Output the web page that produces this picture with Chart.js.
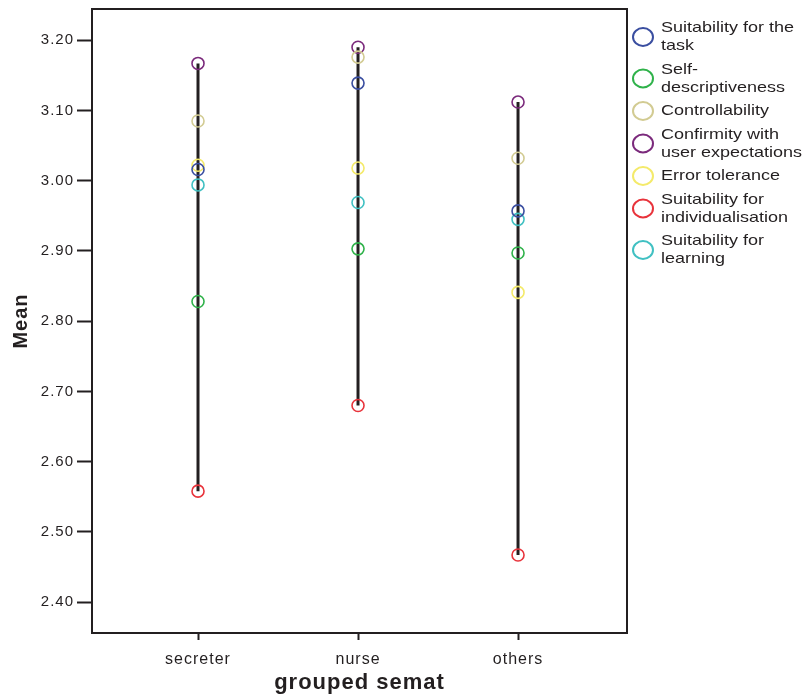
<!DOCTYPE html>
<html>
<head>
<meta charset="utf-8">
<script src="https://cdn.jsdelivr.net/npm/chart.js@4.4.0/dist/chart.umd.min.js"></script>
<style>
  html, body { margin: 0; padding: 0; background: #fff; }
  #wrap { width: 803px; height: 695px; }
</style>
</head>
<body>
<div id="wrap"><canvas id="meanChart"></canvas></div>
<script>
// categories on the x axis
const groups = ['secreter', 'nurse', 'others'];

// means per dimension (secreter, nurse, others)
const taskSuitability = [3.016, 3.139, 2.957];
const selfDescriptiveness = [2.828, 2.903, 2.897];
const controllability = [3.085, 3.176, 3.032];
const conformity = [3.167, 3.190, 3.112];
const errorTolerance = [3.022, 3.018, 2.841];
const individualisation = [2.558, 2.680, 2.467];
const learning = [2.994, 2.969, 2.945];

const yTicks = [2.4, 2.5, 2.6, 2.7, 2.8, 2.9, 3.0, 3.1, 3.2];

const series = [
  { label: ['Suitability for the', 'task'], data: taskSuitability, color: '#3a4ea0' },
  { label: ['Self-', 'descriptiveness'], data: selfDescriptiveness, color: '#2fb24a' },
  { label: ['Controllability'], data: controllability, color: '#d2cb92' },
  { label: ['Confirmity with', 'user expectations'], data: conformity, color: '#7b2a7c' },
  { label: ['Error tolerance'], data: errorTolerance, color: '#f4ea6a' },
  { label: ['Suitability for', 'individualisation'], data: individualisation, color: '#e8333b' },
  { label: ['Suitability for', 'learning'], data: learning, color: '#40c0c2' }
];

const FONT = '"Liberation Sans", Arial, sans-serif';

const datasets = series.map(s => ({
  type: 'scatter',
  label: s.label.join(' '),
  legendLines: s.label,
  data: s.data.map((v, i) => ({ x: i, y: v })),
  borderColor: s.color,
  backgroundColor: 'rgba(0,0,0,0)',
  pointRadius: 6,
  pointBorderWidth: 1.6,
  pointHoverRadius: 6,
  order: 1
}));

// high-low line per group, from lowest to highest mean
groups.forEach((g, i) => {
  const vals = series.map(s => s.data[i]);
  datasets.push({
    type: 'line',
    label: g + ' range',
    data: [{ x: i, y: Math.min(...vals) }, { x: i, y: Math.max(...vals) }],
    borderColor: '#231f20',
    borderWidth: 3,
    pointRadius: 0,
    order: 2
  });
});

// the original export is a bit wide, so space the axis text out
const spacingPlugin = {
  id: 'spacing',
  beforeDraw(chart) { chart.ctx.letterSpacing = '1px'; }
};

const framePlugin = {
  id: 'frame',
  afterDraw(chart) {
    const { ctx, chartArea: a } = chart;
    ctx.save();
    ctx.strokeStyle = '#231f20';
    ctx.lineWidth = 2;
    ctx.strokeRect(a.left, a.top, a.right - a.left, a.bottom - a.top);
    ctx.restore();
  }
};

const legendPlugin = {
  id: 'sideLegend',
  afterDraw(chart) {
    const { ctx } = chart;
    const x0 = chart.chartArea.right + 16;
    let y = 28;
    ctx.save();
    ctx.letterSpacing = '0px';
    ctx.font = '15px ' + FONT;
    ctx.textBaseline = 'middle';
    ctx.fillStyle = '#231f20';
    chart.data.datasets.forEach(ds => {
      if (!ds.legendLines) return;
      const lines = ds.legendLines;
      const h = (lines.length - 1) * 18;
      ctx.beginPath();
      ctx.ellipse(x0, y + h / 2, 10, 9, 0, 0, Math.PI * 2);
      ctx.strokeStyle = ds.borderColor;
      ctx.lineWidth = 2;
      ctx.stroke();
      lines.forEach((t, k) => {
        ctx.save();
        ctx.translate(x0 + 18, y + k * 18);
        ctx.scale(1.2, 1);
        ctx.fillText(t, 0, 0);
        ctx.restore();
      });
      y += h + 23.5;
    });
    ctx.restore();
  }
};

new Chart(document.getElementById('meanChart'), {
  type: 'scatter',
  data: { datasets },
  options: {
    responsive: true,
    maintainAspectRatio: false,
    animation: false,
    layout: { padding: { top: 9, right: 176, bottom: 0, left: 0 } },
    plugins: {
      legend: { display: false },
      tooltip: { enabled: false }
    },
    scales: {
      x: {
        type: 'linear',
        min: -0.6625,
        max: 2.681,
        afterBuildTicks: axis => { axis.ticks = groups.map((g, i) => ({ value: i })); },
        afterFit: axis => { axis.height = 62; axis.paddingLeft = 0; axis.paddingRight = 0; },
        border: { display: false },
        grid: { drawOnChartArea: false, tickLength: 7, tickWidth: 2, color: '#231f20' },
        ticks: {
          padding: 10,
          color: '#231f20',
          font: { size: 16, family: FONT },
          callback: v => groups[v]
        },
        title: {
          display: true,
          text: 'grouped semat',
          color: '#231f20',
          padding: { top: 0, bottom: -1 },
          font: { size: 22, weight: 'bold', family: FONT }
        }
      },
      y: {
        type: 'linear',
        min: 2.356,
        max: 3.2445,
        afterBuildTicks: axis => { axis.ticks = yTicks.map(v => ({ value: v })); },
        afterFit: axis => { axis.width = 92; axis.paddingTop = 0; axis.paddingBottom = 0; },
        border: { display: false },
        grid: { drawOnChartArea: false, tickLength: 15, tickWidth: 2, color: '#231f20' },
        ticks: {
          padding: 3,
          color: '#231f20',
          font: { size: 15, family: FONT },
          callback: v => v.toFixed(2)
        },
        title: {
          display: true,
          text: 'Mean',
          color: '#231f20',
          padding: { top: 9, bottom: 0 },
          font: { size: 20, weight: 'bold', family: FONT }
        }
      }
    }
  },
  plugins: [spacingPlugin, framePlugin, legendPlugin]
});
</script>
</body>
</html>
